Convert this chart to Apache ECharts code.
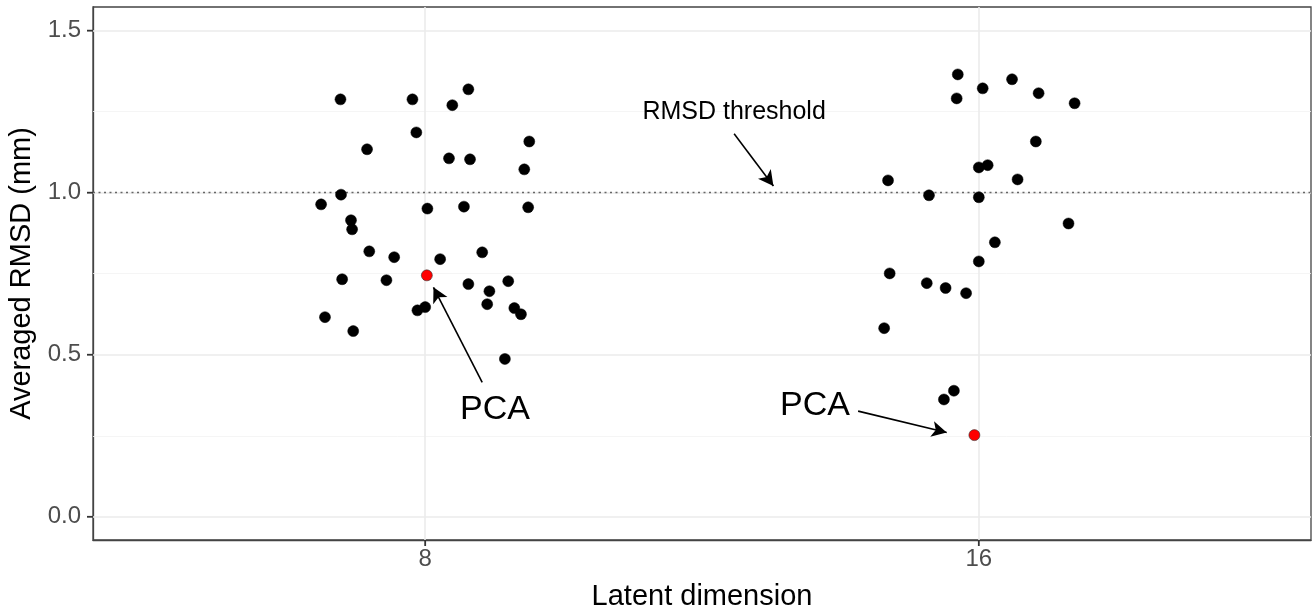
<!DOCTYPE html>
<html>
<head>
<meta charset="utf-8">
<script src="https://cdn.jsdelivr.net/npm/echarts@6/dist/echarts.min.js"></script>
<style>
  html, body { margin: 0; padding: 0; background: #fff; }
  #chart { width: 1312px; height: 609px; }
</style>
</head>
<body>
<div id="chart"></div>
<script>
// x is discrete: category "8" sits at 1, "16" at 2; points are jittered around them
const categories = ["8", "16"];
const categoryPos = [1, 2];
const yTicks = [0, 0.5, 1.0, 1.5];
const yMinorTicks = [0.25, 0.75, 1.25];
const threshold = 1.0;

const jitter8 = [
  -0.153, -0.023, 0.078, 0.049, -0.016, -0.105, 0.043, 0.081, 0.188, 0.179,
  -0.152, -0.188, 0.004, 0.070, 0.186, -0.134, -0.132, -0.101, -0.056, 0.027,
  0.103, -0.150, -0.070, 0.078, 0.116, 0.150, 0.112, -0.014, 0.000, 0.161,
  0.173, -0.181, -0.130, 0.144
];
const rmsd8 = [
  1.288, 1.288, 1.319, 1.270, 1.186, 1.134, 1.106, 1.103, 1.158, 1.072,
  0.994, 0.964, 0.951, 0.957, 0.955, 0.915, 0.887, 0.819, 0.801, 0.795,
  0.816, 0.733, 0.730, 0.718, 0.696, 0.727, 0.656, 0.637, 0.647, 0.644,
  0.625, 0.616, 0.573, 0.487
];
const jitter16 = [
  -0.038, -0.040, 0.007, 0.060, 0.108, 0.173, 0.103, 0.000, 0.016, -0.164,
  0.070, -0.090, 0.000, 0.162, 0.029, 0.000, -0.161, -0.094, -0.060, -0.023,
  -0.171, -0.045, -0.063
];
const rmsd16 = [
  1.365, 1.291, 1.322, 1.350, 1.307, 1.276, 1.158, 1.078, 1.085, 1.038,
  1.041, 0.992, 0.986, 0.905, 0.847, 0.788, 0.751, 0.721, 0.706, 0.690,
  0.582, 0.389, 0.362
];
const pcaJitter = [0.003, -0.008];
const pcaRmsd = [0.745, 0.252];

const points = [];
jitter8.forEach((j, i) => points.push([categoryPos[0] + j, rmsd8[i]]));
jitter16.forEach((j, i) => points.push([categoryPos[1] + j, rmsd16[i]]));
const pcaPoints = pcaJitter.map((j, i) => [categoryPos[i] + j, pcaRmsd[i]]);

const xRange = [0.4, 2.6];
const yRange = [-0.0716, 1.573];

const font = "Liberation Sans";
const majorGrid = { color: "#ebebeb", width: 1.6, type: "solid" };
const minorGrid = { color: "#f2f2f2", width: 0.8, type: "solid" };

const gridLines = []
  .concat(yTicks.map((v) => ({ yAxis: v, lineStyle: majorGrid })))
  .concat(yMinorTicks.map((v) => ({ yAxis: v, lineStyle: minorGrid })))
  .concat(categoryPos.map((v) => ({ xAxis: v, lineStyle: majorGrid })))
  .concat([{ yAxis: threshold, lineStyle: { color: "#666", width: 1.4, type: [2, 3.5] } }]);

const arrows = [
  [[1.558, 1.182], [1.629, 1.021]],
  [[1.103, 0.415], [1.015, 0.708]],
  [[1.782, 0.326], [1.942, 0.260]]
];
const labels = [
  { text: "RMSD threshold", at: [1.558, 1.248], size: 25 },
  { text: "PCA", at: [1.126, 0.332], size: 34 },
  { text: "PCA", at: [1.704, 0.344], size: 34 }
];

const chart = echarts.init(document.getElementById("chart"));

const axisLine = { show: true, onZero: false, lineStyle: { color: "#444", width: 1.3 } };

chart.setOption({
  animation: false,
  backgroundColor: "#fff",
  grid: {
    left: 93,
    right: 1,
    top: 7,
    bottom: 69,
    outerBoundsMode: "none",
    containLabel: false,
    show: true,
    borderColor: "#444",
    borderWidth: 1.3,
    backgroundColor: "transparent"
  },
  xAxis: {
    type: "value",
    min: xRange[0],
    max: xRange[1],
    name: "Latent dimension",
    nameLocation: "middle",
    nameGap: 42,
    nameTextStyle: { fontFamily: font, fontSize: 29, color: "#000" },
    axisLine: axisLine,
    splitLine: { show: false },
    axisTick: { show: false },
    axisLabel: {
      customValues: categoryPos,
      formatter: (v) => categories[categoryPos.indexOf(v)] || "",
      margin: 7,
      fontFamily: font,
      fontSize: 24,
      color: "#4d4d4d"
    }
  },
  yAxis: {
    type: "value",
    min: yRange[0],
    max: yRange[1],
    name: "Averaged RMSD (mm)",
    nameLocation: "middle",
    nameGap: 50,
    nameTextStyle: { fontFamily: font, fontSize: 29, color: "#000" },
    axisLine: axisLine,
    splitLine: { show: false },
    axisTick: { show: false },
    axisLabel: {
      customValues: yTicks,
      formatter: (v) => v.toFixed(1),
      margin: 12,
      fontFamily: font,
      fontSize: 24,
      color: "#4d4d4d"
    }
  },
  series: [
    {
      type: "scatter",
      data: [],
      z: 1,
      markLine: {
        silent: true,
        z: 1,
        symbol: ["none", "none"],
        label: { show: false },
        data: gridLines
      }
    },
    {
      type: "scatter",
      data: points,
      z: 3,
      symbolSize: 11,
      itemStyle: { color: "#000", borderColor: "#000", borderWidth: 0.5, opacity: 1 }
    },
    {
      type: "scatter",
      data: pcaPoints,
      z: 3,
      symbolSize: 11,
      itemStyle: { color: "#ff0000", borderColor: "#333", borderWidth: 0.6, opacity: 1 }
    },
    {
      type: "scatter",
      data: [],
      z: 4,
      markLine: {
        silent: true,
        z: 4,
        symbol: ["none", "arrow"],
        symbolSize: [12, 15],
        label: { show: false },
        lineStyle: { color: "#000", width: 1.6, type: "solid" },
        data: arrows.map(([a, b]) => [{ coord: a }, { coord: b }])
      },
      markPoint: {
        silent: true,
        z: 4,
        symbol: "circle",
        symbolSize: 0,
        data: labels.map((l) => ({
          coord: l.at,
          label: {
            show: true,
            formatter: l.text,
            position: "inside",
            fontFamily: font,
            fontSize: l.size,
            color: "#000"
          }
        }))
      }
    }
  ]
});

// axis ticks: short dark strokes outside the panel, placed through the axes' own scales
const tickLen = 6;
const tickStyle = { stroke: "#333", lineWidth: 1.8 };
const ticks = [];
categoryPos.forEach((v) => {
  const p = chart.convertToPixel({ xAxisIndex: 0, yAxisIndex: 0 }, [v, yRange[0]]);
  ticks.push({ type: "line", z: 100, silent: true, shape: { x1: p[0], y1: p[1], x2: p[0], y2: p[1] + tickLen }, style: tickStyle });
});
yTicks.forEach((v) => {
  const p = chart.convertToPixel({ xAxisIndex: 0, yAxisIndex: 0 }, [xRange[0], v]);
  ticks.push({ type: "line", z: 100, silent: true, shape: { x1: p[0] - tickLen, y1: p[1], x2: p[0], y2: p[1] }, style: tickStyle });
});
chart.setOption({ graphic: { elements: ticks } });

window.addEventListener("resize", () => chart.resize());
</script>
</body>
</html>
